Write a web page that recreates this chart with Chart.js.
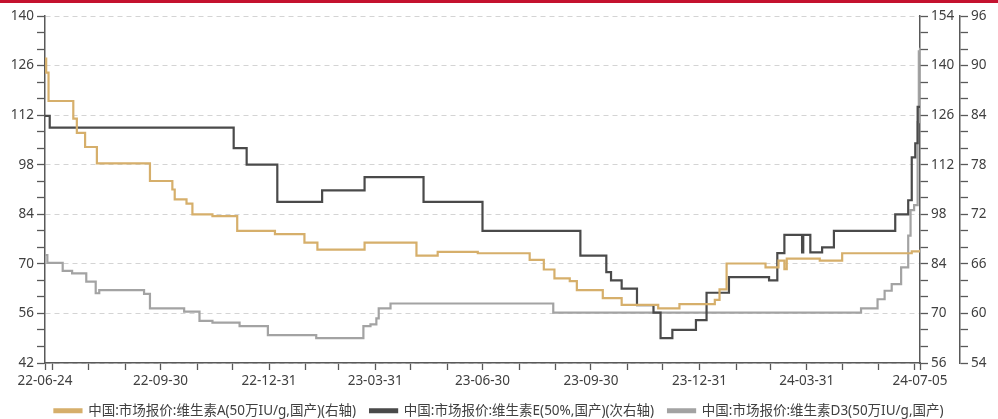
<!DOCTYPE html>
<html>
<head>
<meta charset="utf-8">
<script src="https://cdn.jsdelivr.net/npm/chart.js@4.4.1/dist/chart.umd.min.js"></script>
<style>
  html, body { margin: 0; padding: 0; background: #fff; }
  #wrap { width: 998px; height: 419px; }
</style>
</head>
<body>
<div id="wrap"><canvas id="chart" width="998" height="419"></canvas></div>
<script>
const startDate = '2022-06-24';
const endDate = '2024-07-05';
const xLabelDates = ['2022-06-24', '2022-09-30', '2022-12-31', '2023-03-31', '2023-06-30',
  '2023-09-30', '2023-12-31', '2024-03-31', '2024-07-05'];

// 维生素A (右轴) - dates where the price changes and the new price
const vaDates = ['2022-06-24', '2022-06-25', '2022-06-27', '2022-07-18', '2022-07-21', '2022-07-28',
  '2022-08-07', '2022-09-21', '2022-10-10', '2022-10-12', '2022-10-22', '2022-10-27', '2022-11-13',
  '2022-12-04', '2023-01-05', '2023-01-30', '2023-02-10', '2023-03-22', '2023-05-05', '2023-05-23',
  '2023-06-26', '2023-08-09', '2023-08-21', '2023-08-30', '2023-09-12', '2023-09-18', '2023-10-10',
  '2023-10-26', '2023-11-26', '2023-12-14', '2024-01-13', '2024-01-17', '2024-01-23', '2024-02-25',
  '2024-03-07', '2024-03-12', '2024-03-14', '2024-04-11', '2024-04-30', '2024-06-28', '2024-07-05'];
const vaValues = [142, 138, 130, 125, 121, 117,
  112.4, 107.4, 105, 102.2, 101, 98, 97.5,
  93.3, 92.4, 90, 88, 90, 86.3, 87.4,
  87, 85.1, 82.4, 79.9, 79.1, 76.6, 74.3,
  72.4, 71.4, 72.6, 73.8, 76.8, 84.1, 83,
  84.9, 82.5, 85.5, 84.9, 87, 87.5, 88];

// 维生素E (次右轴)
const veDates = ['2022-06-24', '2022-06-28', '2022-12-01', '2022-12-12', '2023-01-07', '2023-02-14',
  '2023-03-22', '2023-05-11', '2023-06-30', '2023-09-21', '2023-10-13', '2023-10-17', '2023-10-26',
  '2023-11-08', '2023-11-22', '2023-11-28', '2023-12-08', '2023-12-28', '2024-01-06', '2024-01-25',
  '2024-02-28', '2024-03-06', '2024-03-12', '2024-03-27', '2024-03-28', '2024-04-03', '2024-04-13',
  '2024-04-23', '2024-06-14', '2024-06-25', '2024-06-28', '2024-07-01', '2024-07-03', '2024-07-05'];
const veValues = [83.9, 82.5, 80, 78, 73.5, 74.9,
  76.5, 73.5, 70, 67, 65, 64, 63,
  61, 60.1, 57, 58, 59.2, 62.5, 64.4,
  64, 67.3, 69.5, 67.4, 69.5, 67.4, 68,
  70, 72, 73.7, 78.9, 80.6, 85, 85];

// 维生素D3 (左轴)
const vdDates = ['2022-06-24', '2022-06-26', '2022-07-09', '2022-07-17', '2022-07-29', '2022-08-06',
  '2022-08-09', '2022-09-16', '2022-09-21', '2022-10-20', '2022-11-02', '2022-11-13', '2022-12-06',
  '2022-12-30', '2023-02-09', '2023-03-21', '2023-03-27', '2023-04-01', '2023-04-03', '2023-04-13',
  '2023-08-29', '2024-05-16', '2024-05-30', '2024-06-05', '2024-06-11', '2024-06-19', '2024-06-25',
  '2024-06-27', '2024-06-30', '2024-07-03', '2024-07-04', '2024-07-05'];
const vdValues = [72.5, 70.3, 68, 67.3, 65, 61.7,
  62.6, 61.5, 57.4, 56.5, 53.9, 53.4, 52.4,
  49.9, 49, 52.4, 52.9, 54.6, 57.4, 58.8,
  56.2, 57.4, 60, 62.4, 64.3, 69, 78,
  85.2, 86.6, 110, 130, 131];

const DAY = 86400000;
function day(s) { return Math.round((Date.parse(s) - Date.parse(startDate)) / DAY); }
function toPoints(dates, values) { return dates.map((d, i) => ({ x: day(d), y: values[i] })); }
function fmt(s) { return s.slice(2); }

// month-end tick positions
const xTicks = [0];
for (let y = 2022, m = 6; y < 2024 || m <= 6; ) {
  const last = new Date(Date.UTC(y, m, 0)); // last day of month m (1-based)
  xTicks.push(day(last.toISOString().slice(0, 10)));
  m++; if (m > 12) { m = 1; y++; }
}
xTicks.push(day(endDate));
const xLabelMap = {};
xLabelDates.forEach(d => { xLabelMap[day(d)] = fmt(d); });

const gold = '#D6AF6B';
const dark = '#4A4A4A';
const light = '#A3A3A3';
const axisCol = '#595959';
const textCol = '#404040';

Chart.defaults.font.family = "'Noto Sans', 'Noto Sans CJK SC', sans-serif";
Chart.defaults.font.size = 13.5;
Chart.defaults.color = textCol;

const topBar = {
  id: 'topBar',
  beforeDraw(chart) {
    const c = chart.ctx;
    c.save();
    c.fillStyle = '#C4122F';
    c.fillRect(0, 0, chart.width, 3);
    c.restore();
  }
};

function yScale(pos, min, max, step, width, withGrid, weight) {
  return {
    type: 'linear',
    position: pos,
    weight: weight,
    min: min,
    max: max,
    afterBuildTicks: s => {
      const t = [];
      for (let i = 0; i <= 21; i++) t.push({ value: min + i * step / 3 });
      s.ticks = t;
    },
    afterFit: s => { s.width = width; },
    grid: {
      drawOnChartArea: withGrid,
      color: c => (c.index % 3 === 0 ? '#D4D4D4' : 'rgba(0,0,0,0)'),
      lineWidth: 1,
      tickLength: 8,
      tickColor: axisCol,
      tickWidth: 1.3
    },
    border: { color: axisCol, width: 1.5, dash: [5, 4] },
    ticks: {
      autoSkip: false,
      padding: 3,
      color: textCol,
      callback: (v, i) => (i % 3 === 0 ? Math.round(v) : '')
    }
  };
}

const ctx = document.getElementById('chart').getContext('2d');
new Chart(ctx, {
  type: 'line',
  data: {
    datasets: [
      { label: '中国:市场报价:维生素A(50万IU/g,国产)(右轴)', data: toPoints(vaDates, vaValues),
        yAxisID: 'y1', borderColor: gold, backgroundColor: gold },
      { label: '中国:市场报价:维生素E(50%,国产)(次右轴)', data: toPoints(veDates, veValues),
        yAxisID: 'y2', borderColor: dark, backgroundColor: dark },
      { label: '中国:市场报价:维生素D3(50万IU/g,国产)', data: toPoints(vdDates, vdValues),
        yAxisID: 'y', borderColor: light, backgroundColor: light }
    ]
  },
  options: {
    responsive: false,
    animation: false,
    layout: { padding: { top: 16, left: 0, right: 0, bottom: 0 } },
    elements: {
      point: { radius: 0 },
      line: { borderWidth: 2.2, stepped: true, tension: 0 }
    },
    plugins: {
      legend: {
        position: 'bottom',
        maxHeight: 29,
        labels: { boxWidth: 27, boxHeight: 3, padding: 14, color: textCol }
      },
      tooltip: { enabled: false }
    },
    scales: {
      x: {
        type: 'linear',
        min: 0,
        max: day(endDate),
        afterBuildTicks: s => { s.ticks = xTicks.map(v => ({ value: v })); },
        afterFit: s => { s.height = 27; },
        grid: { drawOnChartArea: false, tickLength: 7, tickColor: axisCol, tickWidth: 1.3 },
        border: { color: axisCol, width: 1.5 },
        ticks: {
          autoSkip: false,
          maxRotation: 0,
          padding: 3,
          color: textCol,
          callback: v => xLabelMap[v] || ''
        }
      },
      y: yScale('left', 42, 140, 14, 45, true, 0),
      y1: yScale('right', 56, 154, 14, 40, false, 0),
      y2: yScale('right', 54, 96, 6, 38, false, 1)
    }
  },
  plugins: [topBar]
});
</script>
</body>
</html>
